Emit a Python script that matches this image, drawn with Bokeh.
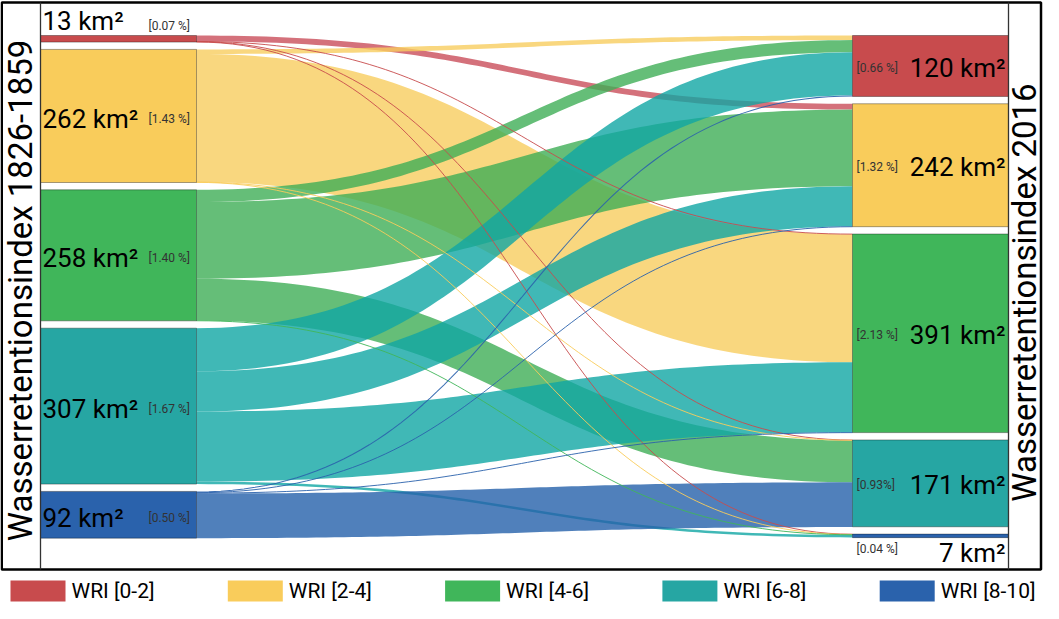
import numpy as np
from bokeh.plotting import figure
from bokeh.models import Range1d, ColumnDataSource
from bokeh.core.properties import value
from bokeh.embed import file_html
from bokeh.resources import INLINE

# ---------------- data ----------------
classes = ["WRI [0-2]", "WRI [2-4]", "WRI [4-6]", "WRI [6-8]", "WRI [8-10]"]
node_colors = ["#C84B4D", "#F9CC5B", "#40B65A", "#26A6A3", "#2A62AC"]
flow_colors = ["#C94E5A", "#F7CD5F", "#3EAE56", "#10A6A4", "#2460AA"]

area_1826 = [13, 262, 258, 307, 92]
pct_1826 = ["[0.07 %]", "[1.43 %]", "[1.40 %]", "[1.67 %]", "[0.50 %]"]
area_2016 = [120, 242, 391, 171, 7]
pct_2016 = ["[0.66 %]", "[1.32 %]", "[2.13 %]", "[0.93%]", "[0.04 %]"]

# flows (km²): from 1826-1859 class -> to 2016 classes [0-2, 2-4, 4-6, 6-8, 8-10]
flow_from_0_2 = [0, 11.5, 0.5, 0.5, 0.5]
flow_from_2_4 = [9, 0, 252, 0.5, 0.5]
flow_from_4_6 = [24, 151, 0, 82.5, 0.5]
flow_from_6_8 = [85, 79, 138, 0, 5]
flow_from_8_10 = [2, 1, 1, 88, 0]
flows = [flow_from_0_2, flow_from_2_4, flow_from_4_6, flow_from_6_8, flow_from_8_10]

title_left = "Wasserretentionsindex 1826-1859"
title_right = "Wasserretentionsindex 2016"

# ---------------- layout ----------------
W, H = 1043, 603
K = 0.508      # px per km²
GAP = 7.3
TOP = 35
XL0, XL1 = 40, 196
XR0, XR1 = 852, 1008
FONT = value("Roboto")

p = figure(width=W, height=H, x_range=Range1d(0, W), y_range=Range1d(H, 0),
           output_backend="svg", toolbar_location=None, min_border=0,
           x_axis_location=None, y_axis_location=None)
p.grid.visible = False
p.outline_line_color = None
p.background_fill_color = "white"
p.border_fill_color = "white"


def stack(vals):
    tops, y = [], TOP
    for v in vals:
        tops.append(y)
        y += v * K + GAP
    return tops


ltop = stack(area_1826)
rtop = stack(area_2016)

t = np.linspace(0, 1, 80)


def bez(x0, y0, x1, y1):
    xm = (x0 + x1) / 2
    xs = (1 - t) ** 3 * x0 + 3 * (1 - t) ** 2 * t * xm + 3 * (1 - t) * t ** 2 * xm + t ** 3 * x1
    ys = (1 - t) ** 3 * y0 + 3 * (1 - t) ** 2 * t * y0 + 3 * (1 - t) * t ** 2 * y1 + t ** 3 * y1
    return xs, ys


src_off = list(ltop)
tgt_off = list(rtop)
pxs, pys, pcol = [], [], []
lxs, lys, lcol, lw = [], [], [], []
for i, row in enumerate(flows):
    for j, v in enumerate(row):
        if v <= 0:
            continue
        h = v * K
        sy, ty = src_off[i], tgt_off[j]
        src_off[i] += h
        tgt_off[j] += h
        if v <= 2:
            xs, ys = bez(XL1, sy + h / 2, XR0, ty + h / 2)
            lxs.append(list(xs)); lys.append(list(ys))
            lcol.append(node_colors[i]); lw.append(max(1.0, h))
        else:
            xa, ya = bez(XL1, sy, XR0, ty)
            xb, yb = bez(XL1, sy + h, XR0, ty + h)
            pxs.append(list(xa) + list(xb[::-1]))
            pys.append(list(ya) + list(yb[::-1]))
            pcol.append(flow_colors[i])

p.patches(xs="xs", ys="ys", fill_color="c", fill_alpha=0.8, line_alpha=0,
          source=ColumnDataSource(dict(xs=pxs, ys=pys, c=pcol)))
p.multi_line(xs="xs", ys="ys", line_color="c", line_width="w", line_alpha=0.9,
             source=ColumnDataSource(dict(xs=lxs, ys=lys, c=lcol, w=lw)))

# nodes
lbot = [ltop[k] + area_1826[k] * K for k in range(5)]
rbot = [rtop[k] + area_2016[k] * K for k in range(5)]
p.quad(left=XL0, right=XL1, top=ltop, bottom=lbot, fill_color=node_colors,
       line_color="#000000", line_alpha=0.35, line_width=1)
p.quad(left=XR0, right=XR1, top=rtop, bottom=rbot, fill_color=node_colors,
       line_color="#000000", line_alpha=0.35, line_width=1)

# left labels
lval = [f"{a} km²" for a in area_1826]
lcy = [(ltop[k] + lbot[k]) / 2 + 3 for k in range(5)]
lcy_val = list(lcy)
lcy_pct = list(lcy)
lcy_val[0] = ltop[0] - 15
lcy_pct[0] = ltop[0] - 10
p.text(x=[XL0 + 2] * 5, y=lcy_val, text=lval, text_font=FONT, text_font_size="26px",
       text_baseline="middle", text_align="left", text_color="black")
p.text(x=[XL0 + 108] * 5, y=lcy_pct, text=pct_1826, text_font=FONT, text_font_size="12px",
       text_baseline="middle", text_align="left", text_color="#333333")

# right labels
rval = [f"{a} km²" for a in area_2016]
rcy = [(rtop[k] + rbot[k]) / 2 + 2 for k in range(5)]
rcy_val = list(rcy)
rcy_pct = list(rcy)
rcy_val[4] = rbot[4] + 15
rcy_pct[4] = rbot[4] + 11
p.text(x=[XR1 - 3] * 5, y=rcy_val, text=rval, text_font=FONT, text_font_size="26px",
       text_baseline="middle", text_align="right", text_color="black")
p.text(x=[XR0 + 4] * 5, y=rcy_pct, text=pct_2016, text_font=FONT, text_font_size="12px",
       text_baseline="middle", text_align="left", text_color="#333333")

# frame and title columns
p.quad(left=1.25, right=1040.5, top=2, bottom=569, fill_color=None,
       line_color="black", line_width=2.5)
p.segment(x0=[XL0, XR1], y0=[2, 2], x1=[XL0, XR1], y1=[569, 569],
          line_color="#333333", line_width=1.3)
p.text(x=[20], y=[290], text=[title_left], angle=np.pi / 2, text_font=FONT,
       text_font_size="33px", text_baseline="middle", text_align="center", text_color="black")
p.text(x=[1024], y=[292], text=[title_right], angle=np.pi / 2, text_font=FONT,
       text_font_size="33px", text_baseline="middle", text_align="center", text_color="black")

# legend
leg_x = [10 + k * 217.3 for k in range(5)]
p.quad(left=leg_x, right=[x + 55 for x in leg_x], top=[580] * 5, bottom=[601] * 5,
       fill_color=node_colors, line_color=None)
p.text(x=[x + 61 for x in leg_x], y=[590] * 5, text=classes, text_font=FONT,
       text_font_size="21px", text_baseline="middle", text_align="left", text_color="black")

open("out.html", "w").write(file_html(p, INLINE))
